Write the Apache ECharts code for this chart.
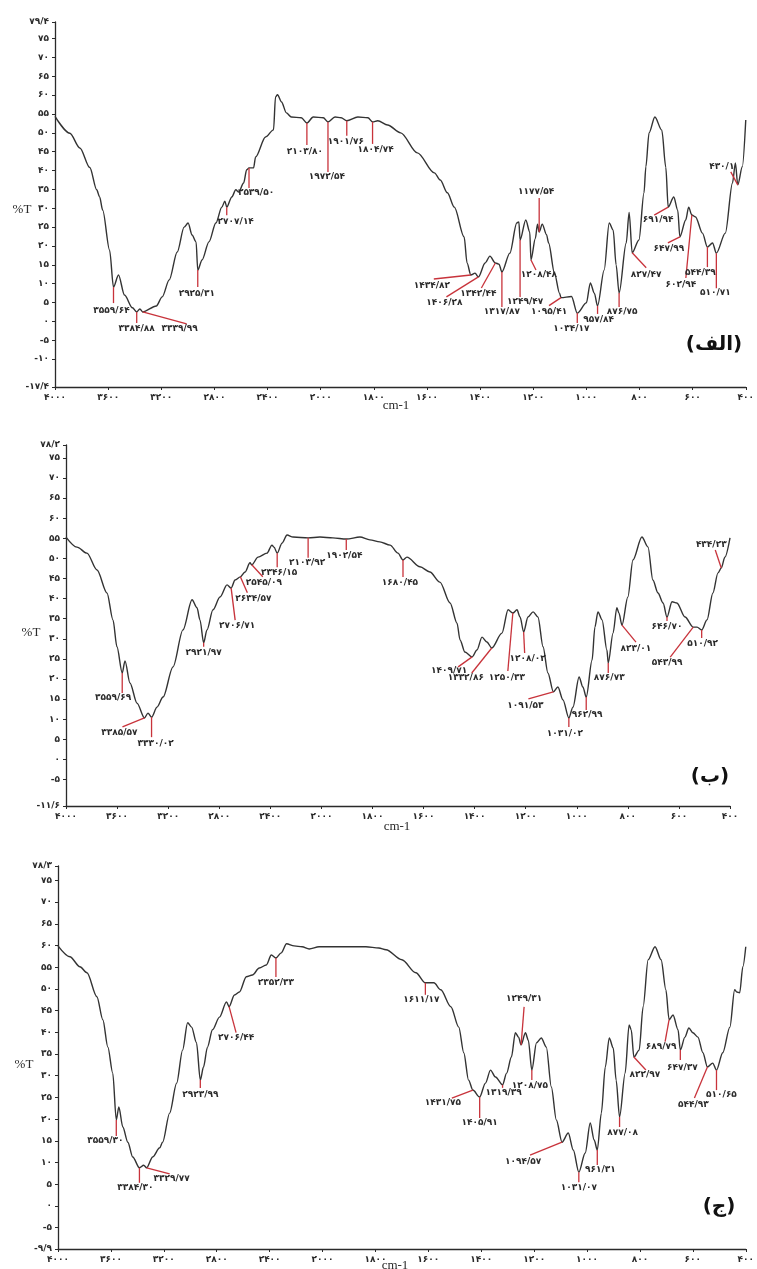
<!DOCTYPE html>
<html><head><meta charset="utf-8">
<script src="https://cdn.jsdelivr.net/npm/echarts@6/dist/echarts.min.js"></script>
<style>html,body{margin:0;padding:0;background:#fff}#c{width:757px;height:1269px}</style>
</head><body><div id="c"></div>
<script>
// ---- x tick labels (cm-1), equal spacing, scale change at 2000 ----
const xTicks = [4000,3600,3200,2800,2400,2000,1800,1600,1400,1200,1000,800,600,400];
// ---- y tick labels ----
const yTicksA = [-17.4,-10,-5,0,5,10,15,20,25,30,35,40,45,50,55,60,65,70,75,79.4];
const yTicksB = [-11.6,-5,0,5,10,15,20,25,30,35,40,45,50,55,60,65,70,75,78.2];
const yTicksC = [-9.9,-5,0,5,10,15,20,25,30,35,40,45,50,55,60,65,70,75,78.3];

// ---- spectrum (الف) ----
const wnA = [4000,3888,3813,3738,3686,3664,3641,3589,3559.64,3522,3477,3417,3384.88,3361,3339.99,3237,3193,3140,3080,3028,2998,2968,2938,2925.31,2893,2841,2789,2744,2721,2707.14,2669,2639,2617,2580,2557,2539.5,2505,2490,2415,2355,2340,2325,2295,2258,2221,2146,2103.8,2056,1990,1972.54,1946,1923,1901.76,1860,1822,1804.74,1785,1748,1699,1636,1572,1550,1523,1497,1460,1449,1434.82,1419,1406.28,1381,1363,1342.44,1329,1317.87,1288,1262,1254,1249.47,1228,1213,1208.48,1192,1184,1177.54,1166,1150,1142,1120,1101,1095.41,1056,1034.17,1000,985,970,957.84,933,914,899,888,876.75,850,839,827.47,802,783,776,764,742,716,701,691.94,671,656,647.99,626,615,602.94,589,563,544.39,525,510.71,477,450,439,430.1,413,400];
const tA = [54.4,49.9,46.0,40.8,34.9,33.0,29.5,18.9,9.1,12.3,7.0,3.6,2.5,3.3,2.5,4.1,6.5,11.0,18.4,25.0,26.1,22.9,21.1,13.6,16.3,21.1,26.1,30.3,31.9,30.3,33.0,34.9,34.3,36.7,40.2,40.7,40.7,43.6,48.9,50.8,59.5,60.1,58.2,55.3,54.2,54.0,52.6,54.2,54.0,52.9,54.2,54.0,53.2,54.2,54.0,52.9,53.2,52.1,50.0,44.7,39.4,37.5,34.1,30.3,22.4,15.5,12.3,12.8,11.8,15.5,17.3,15.5,15.2,13.1,18.1,26.1,26.4,21.6,26.9,23.7,16.3,22.0,25.8,23.7,25.8,23.0,20.8,12.8,7.5,6.3,6.6,2.2,4.9,10.2,7.5,4.1,13.6,26.1,24.2,15.0,7.5,20.8,28.9,18.2,21.6,34.1,41.0,50.0,54.2,50.7,40.9,30.3,33.0,29.5,22.4,26.9,30.3,28.2,27.7,23.4,19.7,20.8,18.1,23.4,36.7,42.0,36.2,41.0,53.4];

// ---- spectrum (ب) ----
const wnB = [4000,3914,3836,3757,3679,3632,3601,3559.69,3538,3499,3444,3385.57,3358,3330.02,3287,3240,3162,3084,3013,2974,2951,2921.97,2896,2849,2794,2739,2706.71,2676,2634.57,2598,2559,2545.09,2496,2426,2387,2371,2346.15,2308,2269,2222,2103.92,2011,1955,1902.54,1849,1810,1771,1731,1700,1680.45,1665,1614,1575,1536,1496,1469,1457,1438,1409.71,1391,1371,1352,1332.86,1293,1269,1250.33,1234,1222,1208.02,1191,1171,1152,1132,1113,1091.53,1074,1054,1031.02,1015,991,976,962.99,940,929,917,901,882,876.73,858,843,835,823.01,800,780,745,721,702,682,662,646.7,627,608,576,543.99,529,510.92,490,467,447,434.23,420,400];
const tB = [55.3,52.8,51.3,47.1,41.4,34.7,28.0,21.5,24.5,19.0,14.0,10.3,11.5,10.5,13.0,15.5,23.0,32.2,39.7,37.7,34.7,29.0,32.2,37.2,40.4,43.4,42.6,44.6,45.4,46.6,48.9,48.4,50.3,51.3,53.3,52.8,51.3,53.8,55.8,55.3,55.1,55.3,55.1,54.8,55.3,54.6,54.1,53.3,51.3,49.6,50.3,47.9,46.6,44.1,38.9,33.9,29.7,26.7,25.5,27.2,30.4,29.2,27.7,31.4,37.2,36.4,37.2,35.4,31.7,35.4,36.7,35.4,28.0,21.5,16.8,18.0,14.8,10.3,13.0,20.5,18.0,15.5,24.7,32.9,36.7,34.7,27.2,24.0,31.4,37.7,36.4,33.4,40.4,49.6,55.3,52.8,44.6,41.4,38.9,35.4,39.2,38.9,35.4,32.9,32.9,32.2,34.7,41.4,46.4,47.6,50.3,55.1];

// ---- spectrum (ج) ----
const wnC = [4000,3910,3834,3781,3706,3661,3623,3586,3559.3,3540,3510,3472,3435,3384.3,3352,3329.77,3284,3231,3209,3156,3103,3058,3020,2990,2953,2923.99,2900,2870,2832,2779,2726,2706.44,2666,2628,2576,2530,2478,2425,2387,2352.33,2312,2272,2215,2154,2101,2026,1964,1900,1836,1787,1760,1700,1647,1611.17,1579,1553,1515,1485,1466,1448,1431.75,1405.91,1384,1365,1346,1319.39,1304,1286,1271,1259,1249.31,1233,1222,1208.75,1191,1173,1154,1135,1116,1094.57,1071,1052,1031.07,1007,988,973,961.31,946,931,916,901,890,877.08,856,841,833,822.97,803,788,769,743,720,702,689.79,675,656,647.37,630,615,600,581,562,544.93,525,510.65,487,460,442,434,423,411,400];
const tC = [59.9,57.4,55.1,53.7,48.2,42.9,36.6,30.6,19.8,22.8,18.2,14.7,11.3,8.8,9.4,8.8,11.3,13.4,14.7,21.4,28.3,35.9,42.2,41.2,37.6,29.0,32.0,36.6,40.6,43.5,47.0,45.9,48.6,49.3,52.8,53.2,54.8,55.5,57.8,57.1,58.3,60.4,59.9,59.7,59.2,59.7,59.7,59.7,59.7,59.4,59.0,56.7,53.7,51.4,51.4,49.8,45.9,41.2,35.3,29.0,26.7,25.1,28.3,31.3,29.7,27.9,30.6,34.3,39.9,38.9,37.1,39.9,38.2,31.3,37.6,38.7,36.6,27.4,19.8,14.7,16.8,12.9,7.8,12.2,19.1,15.2,12.9,21.4,32.0,38.7,36.4,29.0,20.5,30.6,41.7,40.6,34.3,35.9,45.9,56.7,59.7,56.7,49.8,42.9,44.0,40.6,35.9,38.9,41.0,39.9,38.9,35.3,32.0,32.9,31.3,35.3,41.2,49.8,49.3,49.1,55.1,59.7];

// ---- peak labels (wavenumbers as printed) ----
const peaksA = ['3559.64','3384.88','3339.99','2925.31','2707.14','2539.50','2103.80','1972.54','1901.76','1804.74','1434.82','1406.28','1342.44','1317.87','1249.47','1208.48','1177.54','1095.41','1034.17','957.84','876.75','827.47','691.94','647.99','602.94','544.39','510.71','430.1'];
const peaksB = ['3559.69','3385.57','3330.02','2921.97','2706.71','2634.57','2545.09','2346.15','2103.92','1902.54','1680.45','1409.71','1332.86','1250.33','1208.02','1091.53','1031.02','962.99','876.73','823.01','646.70','543.99','510.92','434.23'];
const peaksC = ['3559.30','3384.30','3329.77','2923.99','2706.44','2352.33','1611.17','1431.75','1405.91','1319.39','1249.31','1208.75','1094.57','1031.07','961.31','877.08','822.97','689.79','647.37','544.93','510.65'];

// ---- label layout: [lineEndDx, lineEndDy, textDx, textDy] in px from the peak ----
const layA = [[0,16,-2,24],[0,11,0,17],[44,12,37,17],[0,17,-1,24],[0,8,9,15],[0,20,7,25],[0,22,-2,29],[0,50,-1,55],[0,15,-1,21],[0,22,3,28],[-37,4,-39,11],[-32,20,-34,26],[-14,25,-17,31],[0,35,0,40],[0,57,5,62],[5,10,8,15],[0,-34,-3,-40],[-12,8,-12,14],[0,10,-6,16],[0,8,1,14],[0,14,3,19],[14,15,14,22],[-14,8,-10,13],[-12,6,-11,12],[-6,63,-11,70],[0,20,-7,26],[0,35,-1,40],[-7,-13,-16,-18]];
const layB = [[0,20,-9,25],[-22,9,-25,15],[0,20,4,26],[0,4,0,10],[4,32,6,38],[7,16,13,22],[11,12,12,18],[0,14,2,20],[0,20,-1,25],[0,11,-2,17],[0,17,-3,23],[-14,10,-23,14],[-20,25,-26,30],[-5,58,-6,65],[1,21,4,27],[-25,7,-28,14],[0,9,-4,16],[0,13,1,18],[0,10,1,15],[14,17,14,24],[0,4,0,10],[-23,30,-26,36],[0,8,1,14],[-6,-18,-10,-23]];
const layC = [[0,16,-11,21],[0,15,-4,20],[23,6,25,11],[0,8,0,15],[7,26,7,31],[0,19,0,25],[0,12,-4,17],[-21,8,-30,13],[0,21,0,26],[0,3,1,8],[3,-38,3,-46],[0,10,-2,16],[-32,13,-39,19],[0,10,0,16],[0,15,3,20],[0,10,3,16],[12,13,11,18],[-4,22,-8,27],[0,10,2,18],[-13,31,-14,38],[0,20,5,25]];

const RED = '#c8333b';
const INK = '#2a2a2a';
const fa = s => String(s).replace(/[0-9]/g, d => '۰۱۲۳۴۵۶۷۸۹'[d]).replace('.', '/');
const pos = w => w >= 2000 ? (4000 - w) / 400 : 5 + (2000 - w) / 200;   // axis position
const wnOf = u => u <= 5 ? 4000 - 400 * u : 2000 - 200 * (u - 5);
function interp(ws, ts, w) {
  for (let i = 0; i < ws.length - 1; i++) {
    if (w <= ws[i] && w >= ws[i + 1]) {
      const f = (ws[i] - w) / (ws[i] - ws[i + 1]);
      return ts[i] + f * (ts[i + 1] - ts[i]);
    }
  }
  return ts[ts.length - 1];
}
const lblFont = 'bold 9px "DejaVu Sans", sans-serif';

const grids = [
  {left: 55, top: 22, width: 695, height: 365},
  {left: 66, top: 445, width: 664, height: 361},
  {left: 58, top: 866, width: 690, height: 383}
];
const panels = [
  {wn: wnA, t: tA, peaks: peaksA, lay: layA, yt: yTicksA},
  {wn: wnB, t: tB, peaks: peaksB, lay: layB, yt: yTicksB},
  {wn: wnC, t: tC, peaks: peaksC, lay: layC, yt: yTicksC}
];

const xAxis = [], yAxis = [], series = [];
panels.forEach((p, k) => {
  xAxis.push({
    type: 'value', gridIndex: k, min: 0, max: xTicks.length - 1, interval: 1,
    axisLine: {onZero: false, lineStyle: {color: INK, width: 1.3}},
    axisTick: {length: 3, lineStyle: {color: INK}},
    splitLine: {show: false},
    axisLabel: {formatter: v => fa(Math.round(wnOf(v))), color: INK, fontSize: 9, fontWeight: 'bold', fontFamily: 'DejaVu Sans', margin: 6}
  });
  yAxis.push({
    type: 'value', gridIndex: k, min: p.yt[0], max: p.yt[p.yt.length - 1],
    axisLine: {show: true, onZero: false, lineStyle: {color: INK, width: 1.3}},
    axisTick: {show: true, length: 3, customValues: p.yt, lineStyle: {color: INK}},
    splitLine: {show: false},
    axisLabel: {customValues: p.yt, formatter: v => fa(Math.round(v * 10) / 10), color: INK, fontSize: 9, fontWeight: 'bold', fontFamily: 'DejaVu Sans', margin: 6}
  });
  series.push({
    type: 'line', xAxisIndex: k, yAxisIndex: k, showSymbol: false, silent: true,
    smooth: 0.3, smoothMonotone: 'x',
    lineStyle: {color: '#333', width: 1.4},
    data: p.wn.map((w, i) => [pos(w), p.t[i]])
  });
  series.push({
    type: 'custom', xAxisIndex: k, yAxisIndex: k, silent: true, clip: false, z: 5,
    encode: {x: 1, y: 2},
    data: p.peaks.map((s, i) => [i, pos(parseFloat(s)), interp(p.wn, p.t, parseFloat(s))]),
    renderItem: (params, api) => {
      const i = api.value(0);
      const c = api.coord([api.value(1), api.value(2)]);
      const L = p.lay[i];
      return {type: 'group', children: [
        {type: 'line', shape: {x1: c[0], y1: c[1], x2: c[0] + L[0], y2: c[1] + L[1]}, style: {stroke: RED, lineWidth: 1.3}},
        {type: 'text', x: c[0] + L[2], y: c[1] + L[3], style: {text: fa(p.peaks[i]), align: 'center', verticalAlign: 'middle', font: lblFont, fill: INK}}
      ]};
    }
  });
});

const serif = '13px "Liberation Serif", serif';
const tag = 'bold 20px "DejaVu Sans", sans-serif';
const graphic = [
  {type: 'text', x: 22, y: 210, style: {text: '%T', font: serif, fill: INK, align: 'center', verticalAlign: 'middle'}},
  {type: 'text', x: 31, y: 633, style: {text: '%T', font: serif, fill: INK, align: 'center', verticalAlign: 'middle'}},
  {type: 'text', x: 24, y: 1065, style: {text: '%T', font: serif, fill: INK, align: 'center', verticalAlign: 'middle'}},
  {type: 'text', x: 396, y: 406, style: {text: 'cm-1', font: serif, fill: INK, align: 'center', verticalAlign: 'middle'}},
  {type: 'text', x: 397, y: 827, style: {text: 'cm-1', font: serif, fill: INK, align: 'center', verticalAlign: 'middle'}},
  {type: 'text', x: 395, y: 1266, style: {text: 'cm-1', font: serif, fill: INK, align: 'center', verticalAlign: 'middle'}},
  {type: 'text', x: 714, y: 345, style: {text: '(الف)', font: tag, fill: '#111', align: 'center', verticalAlign: 'middle'}},
  {type: 'text', x: 710, y: 777, style: {text: '(ب)', font: tag, fill: '#111', align: 'center', verticalAlign: 'middle'}},
  {type: 'text', x: 719, y: 1207, style: {text: '(ج)', font: tag, fill: '#111', align: 'center', verticalAlign: 'middle'}}
];

const chart = echarts.init(document.getElementById('c'), null, {renderer: 'canvas'});
chart.setOption({backgroundColor: '#fff', animation: false, grid: grids, xAxis, yAxis, series, graphic});
</script></body></html>
